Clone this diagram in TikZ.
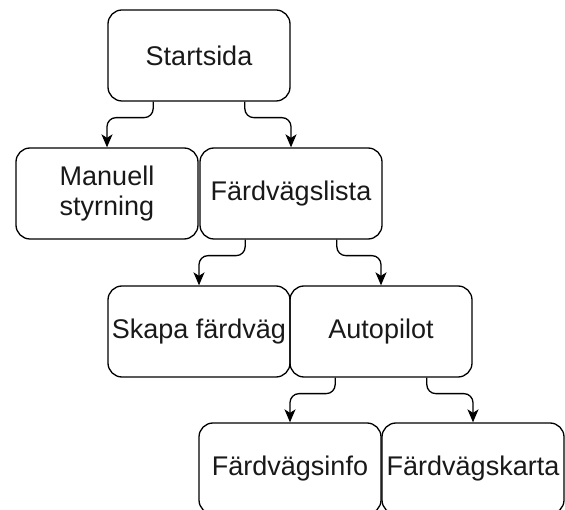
\documentclass[tikz,border=0pt]{standalone}
\usepackage{fontspec}
\setmainfont{Liberation Sans}
\usetikzlibrary{arrows.meta,calc}
\begin{document}
\begin{tikzpicture}[x=1pt,y=-1pt,
  box/.style={draw=black, line width=1.3pt, rounded corners=14pt, minimum width=182pt, minimum height=91pt,
    inner sep=0pt, align=center, font=\fontsize{27}{30}\selectfont, text=black!90},
  arr/.style={draw=black, line width=1.3pt, rounded corners=9pt, -{Stealth[length=13pt,width=11pt,inset=3.5pt]}}]
\useasboundingbox (0,0) rectangle (565,510);
\clip (0,0) rectangle (565,510);
\node[box] (start) at (199,55.5) {Startsida};
\node[box] (manual) at (107,193.5) {Manuell\\styrning};
\node[box] (list) at (291,193.5) {Färdvägslista};
\node[box] (skapa) at (199,331.5) {Skapa färdväg};
\node[box] (auto) at (381,331.5) {Autopilot};
\node[box] (info) at (290,468.5) {Färdvägsinfo};
\node[box] (karta) at (473,468.5) {Färdvägskarta};
\foreach \s/\f/\t in {start/0.25/manual, start/0.75/list, list/0.25/skapa, list/0.75/auto, auto/0.25/info, auto/0.75/karta}{
  \coordinate (p) at ($(\s.south west)!\f!(\s.south east)$);
  \draw[arr] (p) -- ++(0,16) -| (\t.north);
}
\end{tikzpicture}
\end{document}
